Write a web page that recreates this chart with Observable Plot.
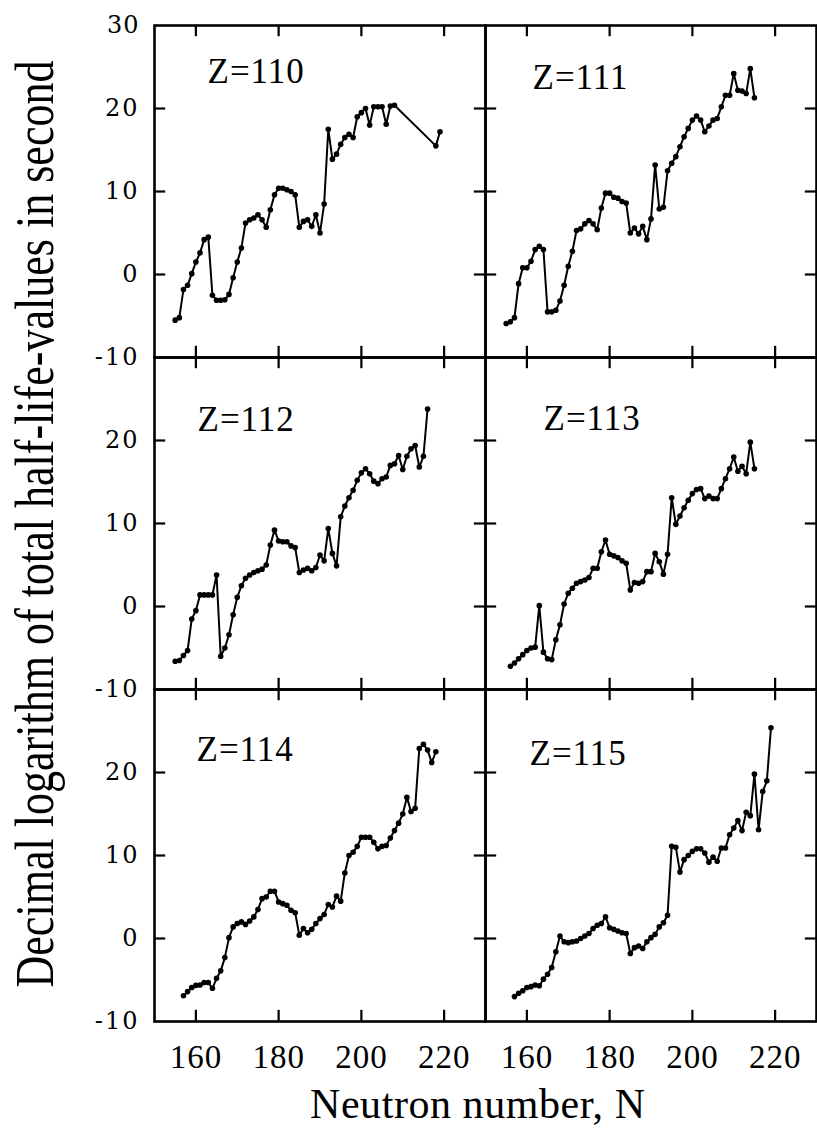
<!DOCTYPE html>
<html>
<head>
<meta charset="utf-8">
<script src="https://cdn.jsdelivr.net/npm/d3@7"></script>
<script src="https://cdn.jsdelivr.net/npm/@observablehq/plot@0.6"></script>
<style>
  body { margin: 0; background: #fff; }
  svg { display: block; }
</style>
</head>
<body>
<div id="chart"></div>
<script>
// ---- data ----
const zValues = [110, 111, 112, 113, 114, 115];
const n110 = [155,156,157,158,159,160,161,162,163,164,165,166,167,168,169,170,171,172,173,174,175,176,177,178,179,180,181,182,183,184,185,186,187,188,189,190,191,192,193,194,195,196,197,198,199,200,201,202,203,204,205,206,207,208,218,219];
const v110 = [-5.5,-5.2,-1.8,-1.3,0.1,1.5,2.6,4.2,4.5,-2.5,-3.1,-3.1,-3.05,-2.4,-0.4,1.5,3.2,6.2,6.6,6.8,7.2,6.6,5.7,7.8,9.6,10.4,10.4,10.2,10.0,9.6,5.7,6.4,6.6,5.8,7.2,5.0,8.5,17.5,13.9,14.5,15.7,16.5,16.9,16.5,19.0,19.5,20.0,18.0,20.2,20.2,20.2,18.1,20.3,20.4,15.5,17.2];
const n111 = [155,156,157,158,159,160,161,162,163,164,165,166,167,168,169,170,171,172,173,174,175,176,177,178,179,180,181,182,183,184,185,186,187,188,189,190,191,192,193,194,195,196,197,198,199,200,201,202,203,204,205,206,207,208,209,210,211,212,213,214,215];
const v111 = [-5.9,-5.7,-5.2,-1.1,0.8,0.8,1.6,3.0,3.4,3.0,-4.5,-4.5,-4.3,-3.2,-1.3,1.0,2.8,5.3,5.5,6.1,6.5,6.1,5.4,8.0,9.8,9.8,9.3,9.2,8.8,8.6,5.0,5.6,4.9,5.8,4.2,6.7,13.2,7.9,8.1,12.5,13.4,14.2,15.4,16.6,17.6,18.6,19.1,18.6,17.2,17.9,18.6,18.8,20.2,21.6,21.6,24.2,22.2,22.1,21.8,24.8,21.3];
const n112 = [155,156,157,158,159,160,161,162,163,164,165,166,167,168,169,170,171,172,173,174,175,176,177,178,179,180,181,182,183,184,185,186,187,188,189,190,191,192,193,194,195,196,197,198,199,200,201,202,203,204,205,206,207,208,209,210,211,212,213,214,215,216];
const v112 = [-6.6,-6.5,-5.9,-5.3,-1.5,-0.5,1.4,1.4,1.4,1.4,3.8,-6.0,-5.0,-3.4,-1.0,1.1,2.5,3.4,3.8,4.1,4.3,4.5,5.0,7.4,9.2,7.9,7.8,7.8,7.3,7.1,4.1,4.4,4.6,4.3,4.7,6.2,5.5,9.4,6.4,4.9,10.8,12.1,13.1,14.0,15.2,16.1,16.6,16.0,15.1,14.8,15.4,15.6,17.0,17.2,18.2,16.5,18.1,19.0,19.4,16.8,18.1,23.8];
const n113 = [156,157,158,159,160,161,162,163,164,165,166,167,168,169,170,171,172,173,174,175,176,177,178,179,180,181,182,183,184,185,186,187,188,189,190,191,192,193,194,195,196,197,198,199,200,201,202,203,204,205,206,207,208,209,210,211,212,213,214,215];
const v113 = [-7.2,-6.8,-6.3,-5.8,-5.3,-5.0,-4.9,0.1,-5.5,-6.3,-6.4,-4.0,-2.2,0.3,1.6,2.2,2.8,3.0,3.2,3.5,4.6,4.6,6.6,8.0,6.3,6.1,5.9,5.5,5.2,2.0,2.9,2.8,3.0,4.2,4.2,6.4,5.4,3.9,6.3,13.1,9.9,10.9,11.9,12.8,13.6,14.1,14.2,13.0,13.3,13.0,13.0,14.2,15.4,16.6,18.0,16.3,16.9,16.0,19.8,16.6];
const n114 = [157,158,159,160,161,162,163,164,165,166,167,168,169,170,171,172,173,174,175,176,177,178,179,180,181,182,183,184,185,186,187,188,189,190,191,192,193,194,195,196,197,198,199,200,201,202,203,204,205,206,207,208,209,210,211,212,213,214,215,216,217,218];
const v114 = [-6.9,-6.4,-5.9,-5.65,-5.6,-5.3,-5.3,-6.0,-4.8,-3.9,-2.3,0.1,1.4,1.8,2.0,1.7,2.1,2.6,3.5,4.8,5.0,5.7,5.7,4.4,4.2,4.0,3.4,3.1,0.4,1.2,0.7,1.1,1.8,2.4,2.9,4.1,3.8,5.1,4.5,7.9,10.0,10.4,11.1,12.2,12.2,12.2,11.6,10.8,11.1,11.2,12.1,13.0,13.9,15.0,17.0,15.3,15.7,22.9,23.4,22.7,21.2,22.5];
const n115 = [157,158,159,160,161,162,163,164,165,166,167,168,169,170,171,172,173,174,175,176,177,178,179,180,181,182,183,184,185,186,187,188,189,190,191,192,193,194,195,196,197,198,199,200,201,202,203,204,205,206,207,208,209,210,211,212,213,214,215,216,217,218,219];
const v115 = [-7.0,-6.6,-6.3,-5.9,-5.8,-5.6,-5.7,-4.9,-4.3,-3.5,-1.6,0.3,-0.4,-0.5,-0.4,-0.3,0.0,0.3,0.6,1.2,1.6,1.8,2.6,1.3,1.1,0.9,0.7,0.6,-1.8,-1.1,-0.9,-1.2,-0.4,0.1,0.5,1.4,1.9,2.8,11.1,11.0,8.0,9.5,10.0,10.5,10.8,10.8,10.3,9.2,9.8,9.3,10.9,10.9,12.5,13.3,14.2,13.0,15.2,14.8,19.8,13.1,17.7,19.0,25.4];

const xTicks = [160, 180, 200, 220];
const yTicks = [0, 10, 20];
const yTickLabels = [-10, 0, 10, 20];
const yTopLabel = [30];

// ---- tables for Plot ----
const series = [[n110, v110], [n111, v111], [n112, v112], [n113, v113], [n114, v114], [n115, v115]];
const panels = zValues.map((Z, i) => ({Z, col: i % 2, row: Math.floor(i / 2)}));
const data = series.flatMap(([ns, vs], i) => ns.map((N, j) => ({...panels[i], N, v: vs[j]})));
const xTickTable = panels.flatMap(p => xTicks.map(t => ({...p, t})));
const yTickTable = panels.flatMap(p => yTicks.map(t => ({...p, t})));

// layout / style constants
const xDomain = [150, 230];
const yDomain = [-10, 30];
const tickLenY = 1.35;  // inward tick length in y units (~11 px)
const tickLenX = 2.7;   // inward tick length in x units (~11 px)
const labelOffsets = [[53, 57], [47, 63], [43, 73], [58, 72], [42, 71], [44, 75]];
const serif = "'Liberation Serif', 'Times New Roman', serif";
const heavySerif = "'DejaVu Serif', serif";
const fmt = d => String(d);
const tickStyle = {fx: "col", fy: "row", stroke: "black", strokeWidth: 2.2};

const chart = Plot.plot({
  width: 817, height: 1130,
  marginLeft: 154, marginRight: 1, marginTop: 25, marginBottom: 109,
  style: {fontFamily: serif, color: "black", background: "white", overflow: "visible"},
  x: {domain: xDomain},
  y: {domain: yDomain},
  fx: {domain: [0, 1], padding: 0, axis: null},
  fy: {domain: [0, 1, 2], padding: 0, axis: null},
  marks: [
    Plot.frame({stroke: "black", strokeWidth: 2.6}),
    // inward ticks on all four sides of every panel
    Plot.ruleX(xTickTable, {x: "t", y1: () => yDomain[0], y2: () => yDomain[0] + tickLenY, ...tickStyle}),
    Plot.ruleX(xTickTable, {x: "t", y1: () => yDomain[1], y2: () => yDomain[1] - tickLenY, ...tickStyle}),
    Plot.ruleY(yTickTable, {y: "t", x1: () => xDomain[0], x2: () => xDomain[0] + tickLenX, ...tickStyle}),
    Plot.ruleY(yTickTable, {y: "t", x1: () => xDomain[1], x2: () => xDomain[1] - tickLenX, ...tickStyle}),
    // tick labels
    Plot.axisX({anchor: "bottom", ticks: xTicks, tickSize: 0, tickPadding: 23, tickFormat: fmt, label: null, fontSize: 33, fill: "black"}),
    Plot.axisY({anchor: "left", ticks: yTickLabels, tickSize: 0, tickPadding: 15, tickFormat: fmt, label: null, fontSize: 24, fontFamily: heavySerif, fill: "black"}),
    Plot.text(yTopLabel, {fx: () => 0, fy: () => 0, y: d => d, text: fmt, frameAnchor: "left", textAnchor: "end", dx: -15, fontSize: 24, fontFamily: heavySerif, fill: "black"}),
    // data
    Plot.line(data, {x: "N", y: "v", z: "Z", fx: "col", fy: "row", stroke: "black", strokeWidth: 2}),
    Plot.dot(data, {x: "N", y: "v", fx: "col", fy: "row", r: 2.8, fill: "black"}),
    // panel labels
    ...zValues.map((z, i) => Plot.text([`Z=${z}`], {
      fx: () => panels[i].col, fy: () => panels[i].row,
      frameAnchor: "top-left", textAnchor: "start", lineAnchor: "bottom",
      dx: labelOffsets[i][0], dy: labelOffsets[i][1],
      text: d => d, fontSize: 35, fill: "black"
    }))
  ]
});

const svg = d3.select(chart);
svg.selectAll("text").style("letter-spacing", "1px");
svg.selectAll("g[aria-label='y-axis tick label'] text").style("letter-spacing", "2px");
svg.append("text")
  .attr("transform", "translate(53,524) rotate(-90) scale(1,1.33)")
  .attr("text-anchor", "middle").attr("font-family", serif).attr("font-size", 42).attr("fill", "black")
  .attr("textLength", 927).attr("lengthAdjust", "spacingAndGlyphs")
  .text("Decimal logarithm of total half-life-values in second");
svg.append("text")
  .attr("x", 310).attr("y", 1118).attr("text-anchor", "start").attr("font-family", serif)
  .attr("font-size", 42).attr("fill", "black").attr("textLength", 335).attr("lengthAdjust", "spacing")
  .text("Neutron number, N");
document.getElementById("chart").appendChild(chart);
</script>
</body>
</html>
